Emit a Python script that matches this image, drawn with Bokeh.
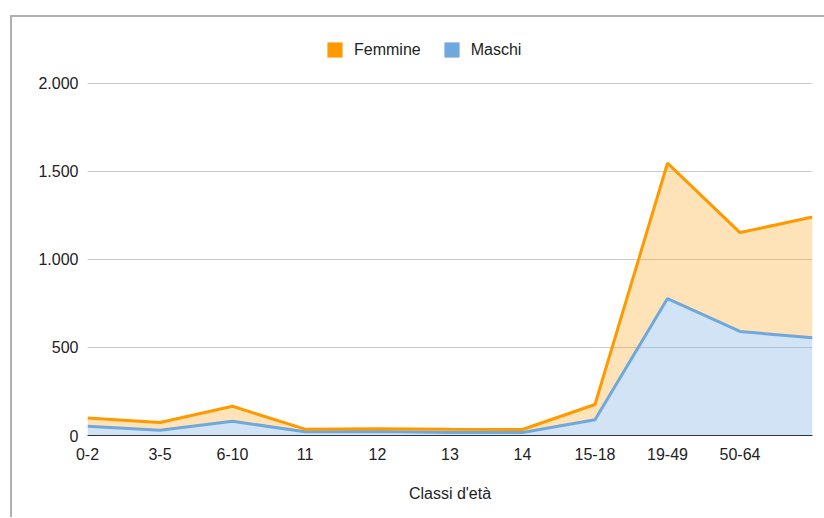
from bokeh.plotting import figure
from bokeh.layouts import column
from bokeh.models import Range1d, FixedTicker, Legend, LegendItem, ColumnDataSource
from bokeh.embed import file_html
from bokeh.resources import INLINE

# ---- data ----
categories = ["0-2", "3-5", "6-10", "11", "12", "13", "14", "15-18", "19-49", "50-64", "65+"]
maschi = [53, 30, 81, 21, 23, 17, 17, 89, 778, 591, 555]
femmine = [47, 44, 85, 15, 15, 18, 17, 87, 769, 562, 686]
y_ticks = [0, 500, 1000, 1500, 2000]
y_tick_labels = ["0", "500", "1.000", "1.500", "2.000"]
x_title = "Classi d'età"
series_names = ["Femmine", "Maschi"]

ORANGE = "#FF9900"
BLUE = "#6FA8DC"
FONT = "Liberation Sans"

idx = list(range(len(categories)))
totale = [m + f for m, f in zip(maschi, femmine)]
src = ColumnDataSource(dict(x=idx, maschi=maschi, totale=totale, zero=[0] * len(idx)))

p = figure(width=812, height=500, output_backend="svg", toolbar_location=None,
           x_range=Range1d(0, len(categories) - 1), y_range=Range1d(0, 2335),
           min_border_left=75, min_border_right=12, min_border_top=7,
           min_border_bottom=82)
p.outline_line_color = None
p.background_fill_color = "white"
p.border_fill_color = "white"

# axes
p.xaxis.ticker = FixedTicker(ticks=idx)
p.xaxis.major_label_overrides = {i: (c if i < len(categories) - 1 else "")
                                 for i, c in enumerate(categories)}
p.xaxis.major_tick_line_color = None
p.xaxis.minor_tick_line_color = None
p.xaxis.major_tick_out = 0
p.xaxis.axis_line_color = "#333333"
p.xaxis.axis_line_width = 1.2
p.xaxis.major_label_standoff = 12
p.xaxis.major_label_text_font = FONT
p.xaxis.major_label_text_font_size = "16px"
p.xaxis.major_label_text_color = "#222222"
p.xaxis.axis_label = x_title
p.xaxis.axis_label_text_font = FONT
p.xaxis.axis_label_text_font_size = "16px"
p.xaxis.axis_label_text_font_style = "normal"
p.xaxis.axis_label_text_color = "#222222"
p.xaxis.axis_label_standoff = 22

p.yaxis.ticker = FixedTicker(ticks=y_ticks)
p.yaxis.major_label_overrides = dict(zip(y_ticks, y_tick_labels))
p.yaxis.axis_line_color = None
p.yaxis.major_tick_line_color = None
p.yaxis.minor_tick_line_color = None
p.yaxis.major_tick_out = 0
p.yaxis.major_label_standoff = 9
p.yaxis.major_label_text_font = FONT
p.yaxis.major_label_text_font_size = "16px"
p.yaxis.major_label_text_color = "#222222"

p.xgrid.grid_line_color = None
p.ygrid.ticker = FixedTicker(ticks=y_ticks)
p.ygrid.grid_line_color = "#cccccc"
p.ygrid.grid_line_width = 1

# areas and lines
p.varea(x="x", y1="zero", y2="maschi", source=src, fill_color=BLUE, fill_alpha=0.32)
p.varea(x="x", y1="maschi", y2="totale", source=src, fill_color=ORANGE, fill_alpha=0.28)
p.line(x="x", y="maschi", source=src, line_color=BLUE, line_width=3)
p.line(x="x", y="totale", source=src, line_color=ORANGE, line_width=3)

# legend swatches (dummy renderers holding only the style)
nan = float("nan")
r_f = p.quad(left=[nan], right=[nan], top=[nan], bottom=[nan],
             fill_color=ORANGE, line_color=None)
r_m = p.quad(left=[nan], right=[nan], top=[nan], bottom=[nan],
             fill_color=BLUE, line_color=None)
legend = Legend(items=[LegendItem(label=series_names[0], renderers=[r_f]),
                       LegendItem(label=series_names[1], renderers=[r_m])],
                orientation="horizontal", location=(238, 376),
                border_line_color=None, background_fill_alpha=0,
                glyph_width=19, glyph_height=19, label_standoff=10, spacing=21,
                padding=0, margin=0,
                label_text_font=FONT, label_text_font_size="16px",
                label_text_color="#222222")
p.add_layout(legend)

layout = column(p, styles={"margin-left": "10px", "margin-top": "15px",
                           "border-left": "2px solid #b0b0b0",
                           "border-top": "2px solid #b0b0b0"})

open("out.html", "w").write(file_html(layout, INLINE))
